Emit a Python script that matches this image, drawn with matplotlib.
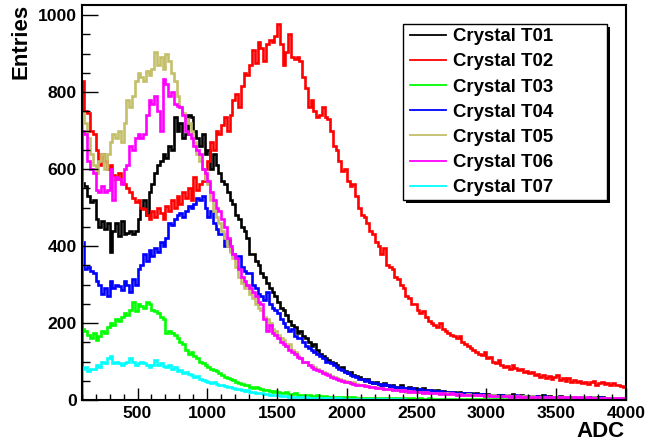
import numpy as np
import matplotlib
matplotlib.use("Agg")
import matplotlib.pyplot as plt
from matplotlib.patches import Rectangle
from matplotlib.lines import Line2D
from matplotlib.ticker import MultipleLocator, FixedLocator

plt.rcParams['font.family'] = ['Liberation Sans', 'DejaVu Sans']

# ---- data: histogram bins of 20 ADC, from 100 to 4000 ----
bin_start = 100
bin_width = 20

t01 = [565, 555, 530, 515, 520, 470, 450, 465, 445, 460,
       385, 440, 460, 425, 465, 430, 435, 440, 430, 440,
       470, 500, 520, 480, 540, 560, 590, 610, 620, 640,
       630, 660, 650, 735, 700, 720, 680, 690, 740, 735,
       700, 680, 660, 690, 640, 650, 600, 640, 610, 590,
       570, 560, 540, 520, 510, 480, 470, 450, 440, 420,
       380, 380, 360, 350, 330, 320, 305, 290, 280, 270,
       255, 240, 235, 220, 205, 195, 190, 175, 180, 165,
       160, 150, 140, 145, 130, 120, 115, 110, 105, 100,
       95, 90, 82, 85, 75, 70, 72, 65, 62, 60,
       55, 52, 55, 48, 45, 46, 42, 40, 44, 38,
       36, 38, 34, 35, 40, 32, 30, 33, 29, 30,
       28, 26, 30, 25, 24, 27, 22, 25, 21, 24,
       20, 22, 19, 21, 18, 20, 17, 19, 16, 18,
       15, 17, 14, 16, 14, 15, 13, 14, 12, 13,
       12, 13, 11, 12, 15, 11, 10, 12, 10, 11,
       10, 9, 11, 10, 9, 12, 8, 10, 9, 8,
       9, 10, 8, 9, 7, 8, 9, 7, 8, 7,
       8, 7, 6, 8, 7, 6, 7, 6, 5, 6,
       6, 5, 6, 5, 5]

t02 = [830, 750, 745, 700, 690, 650, 610, 640, 620, 600,
       610, 585, 575, 590, 565, 560, 550, 540, 525, 515,
       520, 500, 495, 480, 470, 490, 475, 500, 485, 470,
       505, 490, 520, 500, 530, 510, 540, 525, 550, 520,
       580, 545, 560, 570, 600, 620, 670, 650, 700, 690,
       715, 735, 700, 740, 780, 795, 760, 815, 850, 845,
       870, 910, 875, 930, 915, 880, 925, 935, 930, 945,
       978, 925, 870, 905, 950, 890, 885, 890, 880, 840,
       810, 760, 780, 750, 735, 740, 760, 735, 730, 700,
       660, 650, 620, 595, 600, 570, 555, 560, 530, 500,
       480, 475, 460, 440, 430, 410, 400, 380, 395, 350,
       345, 340, 320, 315, 300, 290, 270, 265, 250, 250,
       235, 225, 230, 215, 205, 200, 195, 190, 200, 185,
       180, 175, 170, 165, 160, 165, 150, 145, 140, 135,
       130, 125, 120, 118, 125, 110, 112, 100, 95, 105,
       92, 85, 88, 80, 90, 84, 78, 80, 72, 76,
       70, 72, 65, 68, 60, 66, 58, 62, 55, 60,
       65, 52, 56, 50, 58, 48, 52, 46, 50, 44,
       48, 42, 46, 50, 40, 44, 48, 42, 45, 40,
       44, 38, 40, 36, 34]

t03 = [185, 180, 170, 160, 175, 155, 165, 180, 175, 190,
       200, 195, 210, 205, 215, 225, 220, 235, 255, 230,
       250, 245, 240, 255, 250, 235, 230, 225, 215, 210,
       175, 180, 175, 170, 160, 150, 145, 130, 120, 125,
       115, 110, 100, 95, 90, 85, 80, 78, 75, 70,
       66, 60, 58, 55, 52, 48, 45, 42, 40, 38,
       35, 32, 34, 30, 28, 26, 27, 24, 22, 23,
       20, 19, 18, 20, 16, 15, 17, 14, 13, 14,
       12, 13, 11, 10, 12, 10, 9, 10, 8, 9,
       8, 7, 8, 7, 6, 8, 6, 7, 6, 5,
       6, 5, 6, 5, 4, 5, 5, 4, 5, 4,
       4, 5, 4, 4, 3, 4, 4, 3, 4, 3,
       3, 4, 3, 3, 4, 3, 2, 3, 3, 2,
       3, 2, 3, 2, 2, 3, 2, 2, 3, 2,
       2, 2, 3, 2, 2, 2, 1, 2, 2, 1,
       2, 1, 2, 1, 2, 1, 1, 2, 1, 1,
       1, 2, 1, 1, 1, 1, 2, 1, 1, 1,
       1, 1, 1, 1, 1, 1, 1, 1, 1, 1,
       1, 1, 0, 1, 1, 0, 1, 1, 0, 1,
       1, 0, 1, 0, 1]

t04 = [410, 340, 345, 335, 330, 310, 300, 275, 290, 270,
       310, 290, 300, 295, 285, 310, 300, 280, 315, 300,
       340, 350, 380, 360, 390, 375, 395, 385, 410, 400,
       420, 460, 455, 470, 480, 485, 475, 490, 505, 500,
       510, 525, 520, 530, 500, 475, 490, 460, 445, 430,
       430, 400, 415, 390, 380, 370, 375, 345, 335, 330,
       330, 300, 290, 275, 270, 260, 280, 250, 240, 235,
       225, 210, 200, 190, 180, 185, 165, 160, 160, 150,
       140, 135, 130, 125, 120, 115, 110, 100, 100, 95,
       90, 85, 80, 78, 72, 70, 65, 62, 60, 55,
       55, 50, 52, 48, 45, 44, 42, 40, 42, 38,
       35, 36, 34, 32, 33, 30, 31, 28, 30, 27,
       26, 28, 25, 24, 26, 22, 24, 21, 23, 20,
       20, 19, 21, 18, 19, 17, 18, 16, 17, 16,
       15, 16, 14, 15, 13, 14, 13, 12, 14, 12,
       12, 11, 13, 11, 10, 12, 10, 11, 9, 10,
       10, 9, 10, 8, 9, 10, 8, 9, 8, 9,
       8, 9, 7, 8, 8, 7, 8, 6, 7, 7,
       7, 6, 7, 6, 6, 7, 5, 6, 6, 5,
       6, 5, 5, 6, 5]

t05 = [745, 720, 680, 640, 610, 590, 620, 640, 600, 640,
       670, 690, 680, 700, 670, 720, 780, 760, 790, 830,
       850, 840, 830, 855, 845, 860, 905, 870, 890, 860,
       900, 880, 850, 830, 790, 760, 745, 730, 720, 700,
       670, 640, 620, 600, 575, 560, 520, 490, 475, 460,
       440, 420, 400, 385, 370, 345, 320, 305, 290, 300,
       275, 265, 250, 240, 235, 215, 210, 200, 185, 180,
       170, 160, 155, 140, 145, 130, 125, 115, 110, 100,
       98, 92, 90, 85, 80, 75, 72, 70, 68, 62,
       60, 56, 55, 52, 50, 48, 45, 46, 42, 40,
       38, 40, 36, 35, 33, 34, 30, 32, 29, 28,
       28, 26, 27, 25, 24, 25, 22, 23, 21, 22,
       20, 21, 19, 20, 18, 19, 17, 18, 16, 17,
       16, 17, 15, 16, 14, 15, 14, 13, 15, 13,
       13, 12, 14, 12, 11, 12, 11, 12, 10, 11,
       11, 10, 12, 10, 9, 11, 10, 9, 10, 9,
       9, 10, 8, 9, 9, 8, 9, 8, 7, 8,
       8, 7, 8, 7, 7, 8, 6, 7, 7, 6,
       7, 6, 6, 7, 6, 5, 6, 6, 5, 6,
       5, 6, 5, 5, 6]

t06 = [700, 690, 620, 600, 590, 545, 540, 555, 540, 545,
       600, 520, 580, 575, 560, 600, 610, 660, 650, 680,
       690, 680, 690, 740, 780, 770, 790, 750, 700, 835,
       820, 790, 800, 770, 765, 760, 740, 700, 690, 680,
       660, 650, 640, 600, 590, 570, 540, 520, 500, 490,
       470, 450, 420, 400, 380, 370, 340, 320, 310, 300,
       290, 280, 270, 255, 250, 210, 180, 195, 175, 170,
       160, 150, 145, 140, 130, 125, 120, 112, 108, 100,
       98, 92, 85, 80, 78, 75, 70, 68, 65, 60,
       58, 55, 52, 50, 48, 46, 45, 42, 40, 40,
       38, 36, 37, 34, 33, 32, 30, 31, 28, 29,
       28, 26, 27, 25, 24, 25, 23, 22, 23, 21,
       20, 21, 19, 20, 18, 19, 17, 18, 16, 17,
       16, 15, 17, 15, 14, 15, 13, 14, 13, 14,
       13, 12, 13, 12, 11, 12, 11, 11, 10, 11,
       10, 11, 10, 9, 10, 9, 10, 9, 8, 9,
       9, 8, 9, 8, 8, 9, 7, 8, 8, 7,
       7, 8, 7, 7, 6, 7, 7, 6, 7, 6,
       6, 7, 6, 5, 6, 6, 5, 6, 5, 6,
       5, 6, 5, 5, 5]

t07 = [80, 85, 75, 80, 80, 90, 85, 100, 95, 110,
       115, 95, 100, 95, 90, 95, 100, 110, 100, 90,
       95, 100, 95, 90, 85, 90, 105, 90, 95, 88,
       85, 90, 80, 85, 75, 78, 70, 72, 68, 65,
       60, 62, 55, 52, 50, 48, 45, 46, 42, 40,
       40, 36, 35, 34, 30, 28, 29, 26, 24, 25,
       22, 20, 19, 18, 17, 16, 15, 14, 13, 12,
       12, 11, 10, 10, 9, 9, 8, 8, 7, 7,
       7, 6, 6, 6, 5, 5, 5, 5, 4, 4,
       4, 4, 4, 3, 3, 3, 3, 3, 3, 2,
       2, 3, 2, 2, 2, 2, 2, 2, 2, 2,
       2, 2, 1, 2, 1, 2, 1, 1, 1, 1,
       1, 1, 1, 1, 1, 1, 1, 1, 1, 1,
       1, 1, 0, 1, 1, 0, 1, 1, 0, 1,
       1, 0, 1, 0, 1, 1, 0, 0, 1, 0,
       0, 1, 0, 0, 1, 0, 0, 0, 1, 0,
       0, 0, 1, 0, 0, 0, 0, 1, 0, 0,
       0, 0, 0, 0, 1, 0, 0, 0, 0, 0,
       0, 0, 0, 0, 0, 0, 0, 0, 0, 0,
       0, 0, 0, 0, 0]

series_labels = ["Crystal T01", "Crystal T02", "Crystal T03", "Crystal T04",
                 "Crystal T05", "Crystal T06", "Crystal T07"]
series_values = [t01, t02, t03, t04, t05, t06, t07]
series_colors = ["#000000", "#ff0000", "#00ff00", "#0000ff",
                 "#c4bf6a", "#ff00ff", "#00ffff"]

x_ticks = [500, 1000, 1500, 2000, 2500, 3000, 3500, 4000]
y_ticks = [0, 200, 400, 600, 800, 1000]

# ---- figure ----
W, H = 646, 446
fig = plt.figure(figsize=(W / 100, H / 100), dpi=100)
fig.patch.set_facecolor("white")

def fx(px):
    return px / W

def fy(py):
    return 1 - py / H

ax_l, ax_r, ax_t, ax_b = 81.7, 626.0, 4.7, 400.0
ax = fig.add_axes([fx(ax_l), fy(ax_b), fx(ax_r) - fx(ax_l), fy(ax_t) - fy(ax_b)])

nb = len(t01)
edges = bin_start + bin_width * np.arange(nb + 1)
for vals, col in zip(series_values, series_colors):
    ax.stairs(vals, edges, color=col, linewidth=1.9)

ax.set_xlim(100, 4000)
ax.set_ylim(0, 1027)

for s in ax.spines.values():
    s.set_linewidth(1.5)
    s.set_color("black")

ax.xaxis.set_major_locator(FixedLocator(x_ticks))
ax.xaxis.set_minor_locator(MultipleLocator(100))
ax.yaxis.set_major_locator(FixedLocator(y_ticks))
ax.yaxis.set_minor_locator(MultipleLocator(50))

ax.tick_params(axis="x", which="major", direction="in", length=8.5, width=1.0,
               pad=4.5, labelsize=12.6, top=False)
ax.tick_params(axis="x", which="minor", direction="in", length=4.3, width=1.0, top=False)
ax.tick_params(axis="y", which="major", direction="in", length=11.5, width=1.0,
               pad=3.5, labelsize=12.6, right=False)
ax.tick_params(axis="y", which="minor", direction="in", length=5.8, width=1.0, right=False)
for lab in ax.get_xticklabels() + ax.get_yticklabels():
    lab.set_fontweight("bold")

# axis titles
fig.text(fx(625), fy(442), "ADC", ha="right", va="bottom",
         fontsize=16, fontweight="bold")
fig.text(fx(21), fy(4), "Entries", ha="center", va="top", rotation=90,
         fontsize=16, fontweight="bold")

# legend (ROOT style box with shadow)
lx0, ly0, lx1, ly1 = 402.7, 24.0, 607.0, 199.5
sh = 3.0
fig.add_artist(Rectangle((fx(lx0 + sh), fy(ly1 + sh)), fx(lx1 - lx0), fy(ly0) - fy(ly1),
                         transform=fig.transFigure, facecolor="black",
                         edgecolor="none", zorder=10))
fig.add_artist(Rectangle((fx(lx0), fy(ly1)), fx(lx1 - lx0), fy(ly0) - fy(ly1),
                         transform=fig.transFigure, facecolor="white",
                         edgecolor="black", linewidth=1.0, zorder=11))
row0, row_step = 34.7, 25.17
for i, (lab, col) in enumerate(zip(series_labels, series_colors)):
    yy = row0 + i * row_step
    fig.add_artist(Line2D([fx(410), fx(446)], [fy(yy), fy(yy)],
                          transform=fig.transFigure, color=col,
                          linewidth=1.3, zorder=12))
    fig.text(fx(453), fy(yy), lab, ha="left", va="center_baseline",
             fontsize=13.4, fontweight="bold", zorder=12)

fig.savefig("out.png", dpi=100)
